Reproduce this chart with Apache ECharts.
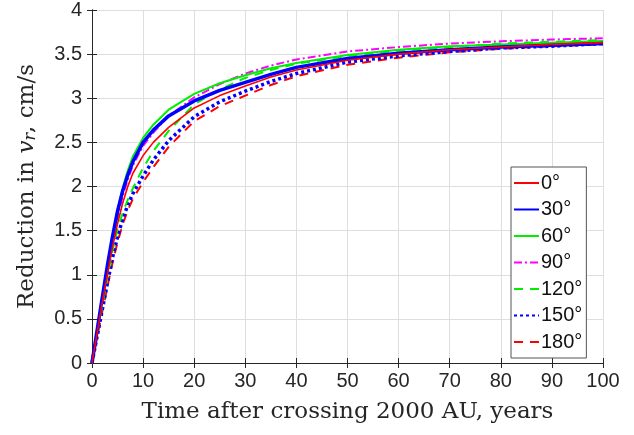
<!DOCTYPE html>
<html>
<head>
<meta charset="utf-8">
<script src="https://cdn.jsdelivr.net/npm/echarts@6/dist/echarts.min.js"></script>
<style>html,body{margin:0;padding:0;background:#fff;}#c{width:634px;height:435px;}</style>
</head>
<body>
<div id="c"></div>
<script>
// Time after crossing 2000 AU (years)
var years = [0,1,2,3,4,5,6,7,8,10,12,15,20,25,30,35,40,50,60,70,80,90,100];
var names = ['0°','30°','60°','90°','120°','150°','180°'];
var v0   = [0,0.34,0.68,1.00,1.31,1.58,1.81,2.00,2.15,2.35,2.50,2.67,2.89,3.03,3.14,3.24,3.32,3.43,3.50,3.55,3.58,3.61,3.63];
var v30  = [0,0.37,0.74,1.10,1.43,1.72,1.95,2.13,2.28,2.50,2.64,2.80,2.97,3.09,3.18,3.27,3.35,3.45,3.51,3.55,3.58,3.60,3.62];
var v60  = [0,0.37,0.74,1.10,1.44,1.74,1.98,2.18,2.34,2.55,2.70,2.87,3.05,3.17,3.26,3.34,3.40,3.49,3.55,3.59,3.61,3.63,3.65];
var v90  = [0,0.35,0.70,1.05,1.37,1.65,1.89,2.08,2.24,2.46,2.61,2.80,3.01,3.16,3.28,3.37,3.44,3.53,3.58,3.62,3.645,3.665,3.68];
var v120 = [0,0.33,0.65,0.97,1.27,1.52,1.70,1.85,1.98,2.21,2.40,2.63,2.93,3.10,3.23,3.32,3.39,3.48,3.54,3.58,3.62,3.64,3.66];
var v150 = [0,0.30,0.60,0.90,1.19,1.43,1.63,1.79,1.92,2.12,2.30,2.52,2.79,2.96,3.08,3.19,3.28,3.41,3.48,3.53,3.57,3.59,3.62];
var v180 = [0,0.29,0.58,0.86,1.13,1.37,1.57,1.73,1.86,2.05,2.22,2.45,2.74,2.91,3.03,3.15,3.25,3.38,3.46,3.52,3.56,3.59,3.61];
var xTicks = [0,10,20,30,40,50,60,70,80,90,100];
var yTicks = [0,0.5,1,1.5,2,2.5,3,3.5,4];

function pairs(arr){ return years.map(function(t,i){ return [t, arr[i]]; }); }

var styles = [
  {color:'#ff0000', width:1.6, type:'solid'},
  {color:'#0000ff', width:3.5, type:'solid'},
  {color:'#00ee00', width:2, type:'solid'},
  {color:'#ff00ff', width:2, type:[8,3,2,3]},
  {color:'#00ee00', width:2, type:[9,7]},
  {color:'#0000ff', width:3.5, type:[3,3]},
  {color:'#ff0000', width:2, type:[9,7]}
];
var vals = [v0,v30,v60,v90,v120,v150,v180];

var series = names.map(function(n,i){
  return {
    name:n, type:'line', data:pairs(vals[i]), showSymbol:false, symbol:'none',
    smooth:false,
    lineStyle:{color:styles[i].color, width:styles[i].width, type:styles[i].type},
    itemStyle:{color:styles[i].color},
    z: 10 - i
  };
});

var axisCol = '#262626';
var labelFont = {fontFamily:'Liberation Sans', fontSize:20, color:axisCol};

var chart = echarts.init(document.getElementById('c'), null, {renderer:'canvas'});
chart.setOption({
  animation:false,
  backgroundColor:'#fff',
  grid:{left:92, right:31, top:10, bottom:72},
  xAxis:[{
    type:'value', min:0, max:100, interval:10,
    axisLine:{show:true, lineStyle:{color:axisCol, width:1}},
    axisTick:{show:true, inside:true, length:5, lineStyle:{color:axisCol}},
    splitLine:{show:true, lineStyle:{color:'#dedede', width:1}},
    axisLabel:Object.assign({margin:8}, labelFont),
    name:'Time after crossing 2000 AU, years', nameLocation:'middle', nameGap:38,
    nameTextStyle:{fontFamily:'DejaVu Serif', fontSize:23, color:axisCol}
  },{
    type:'value', min:0, max:100, interval:10, position:'top',
    axisLine:{show:true, lineStyle:{color:axisCol, width:1}},
    axisTick:{show:true, inside:true, length:5, lineStyle:{color:axisCol}},
    axisLabel:{show:false}, splitLine:{show:false}
  }],
  yAxis:[{
    type:'value', min:0, max:4, interval:0.5,
    axisLine:{show:true, lineStyle:{color:axisCol, width:1}},
    axisTick:{show:true, inside:true, length:5, lineStyle:{color:axisCol}},
    splitLine:{show:true, lineStyle:{color:'#dedede', width:1}},
    axisLabel:Object.assign({margin:10}, labelFont),
    name:'Reduction in {i|v}{s|r}, cm/s', nameLocation:'middle', nameGap:53, nameRotate:90,
    nameTextStyle:{fontFamily:'DejaVu Serif', fontSize:23, color:axisCol,
      rich:{
        i:{fontFamily:'DejaVu Serif', fontStyle:'italic', fontSize:23, color:axisCol},
        s:{fontFamily:'DejaVu Serif', fontStyle:'italic', fontSize:16, color:axisCol, padding:[8,0,0,0]}
      }}
  },{
    type:'value', min:0, max:4, interval:0.5, position:'right',
    axisLine:{show:true, lineStyle:{color:axisCol, width:1}},
    axisTick:{show:true, inside:true, length:5, lineStyle:{color:axisCol}},
    axisLabel:{show:false}, splitLine:{show:false}
  }],
  legend:{
    show:true, orient:'vertical', left:511, top:167, width:85,
    data:names,
    itemWidth:25, itemHeight:10, itemGap:6.5,
    padding:[6,4,6,2],
    itemStyle:{opacity:0},
    backgroundColor:'#fff', borderColor:'#555', borderWidth:1,
    textStyle:{fontFamily:'Liberation Sans', fontSize:20, color:'#111', padding:[0,0,0,-3]}
  },
  series:series
});
</script>
</body>
</html>
